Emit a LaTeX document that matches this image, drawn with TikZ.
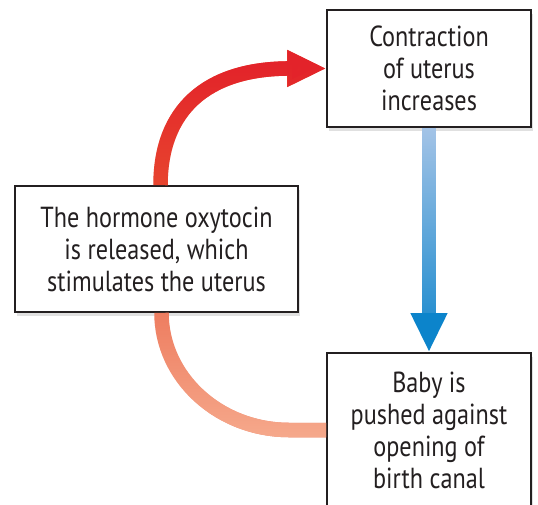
\documentclass[tikz,border=0pt]{standalone}
\usepackage{fontspec}
\setmainfont[FakeStretch=0.835]{PT Sans}
\usetikzlibrary{arrows.meta,shadows,fadings}

\definecolor{ink}{HTML}{231F20}
\definecolor{redtop}{HTML}{E3232A}
\definecolor{redlow}{HTML}{E8472F}
\definecolor{salmontop}{HTML}{EE7B5E}
\definecolor{salmonend}{HTML}{F6A98C}
\definecolor{bluetop}{HTML}{A9C6E8}
\definecolor{bluelow}{HTML}{0C84CB}

\tikzfading[name=fadetop, top color=transparent!100, bottom color=transparent!0]
\tikzfading[name=fadelow, top color=transparent!0, bottom color=transparent!100]

\begin{document}
\begin{tikzpicture}[x=1pt, y=-1pt,
    box/.style={draw=ink, line width=1.6pt, fill=white, text=ink, align=center,
      inner sep=0pt, font=\fontsize{29}{32}\selectfont,
      drop shadow={shadow xshift=2pt, shadow yshift=-4pt, opacity=.12, fill=black}},
    thick arrow/.style={line width=14.5pt, -{Triangle[length=39pt,width=34pt]}},
    thick band/.style={line width=14.5pt}]
  \useasboundingbox (0,0) rectangle (538,504);
  \clip (0,0) rectangle (538,504);
  \fill[white] (0,0) rectangle (538,504);

  \draw (429, 68.5) node [box, minimum width=204, minimum height=117] (contraction)
            {Contraction\\ of uterus\\ increases}
        (156.5, 249) node [box, minimum width=283, minimum height=126] (hormone)
            {The hormone oxytocin\\ is released, which\\ stimulates the uterus}
        (429, 430) node [box, minimum width=204, minimum height=154] (baby)
            {Baby is\\ pushed against\\ opening of\\ birth canal};

  % oxytocin -> contraction
  \draw [thick arrow, redlow] ([xshift=4pt]hormone.north)
    .. controls +(0,-75) and +(-120,0) .. (contraction.west);
  \draw [thick arrow, redtop, path fading=fadelow] ([xshift=4pt]hormone.north)
    .. controls +(0,-75) and +(-120,0) .. (contraction.west);

  % contraction -> baby
  \draw [thick arrow, bluelow] (contraction.south) -- (baby.north);
  \draw [thick band, bluetop, path fading=fadelow, shorten >=39pt]
    (contraction.south) -- (baby.north);

  % baby back to oxytocin
  \draw [thick band, salmontop] ([xshift=5pt]hormone.south)
    .. controls +(0,65) and +(-70,0) .. ([xshift=-37pt]baby.west) -- (baby.west);
  \draw [thick band, salmonend, path fading=fadetop] ([xshift=5pt]hormone.south)
    .. controls +(0,65) and +(-70,0) .. ([xshift=-37pt]baby.west) -- (baby.west);
\end{tikzpicture}
\end{document}
